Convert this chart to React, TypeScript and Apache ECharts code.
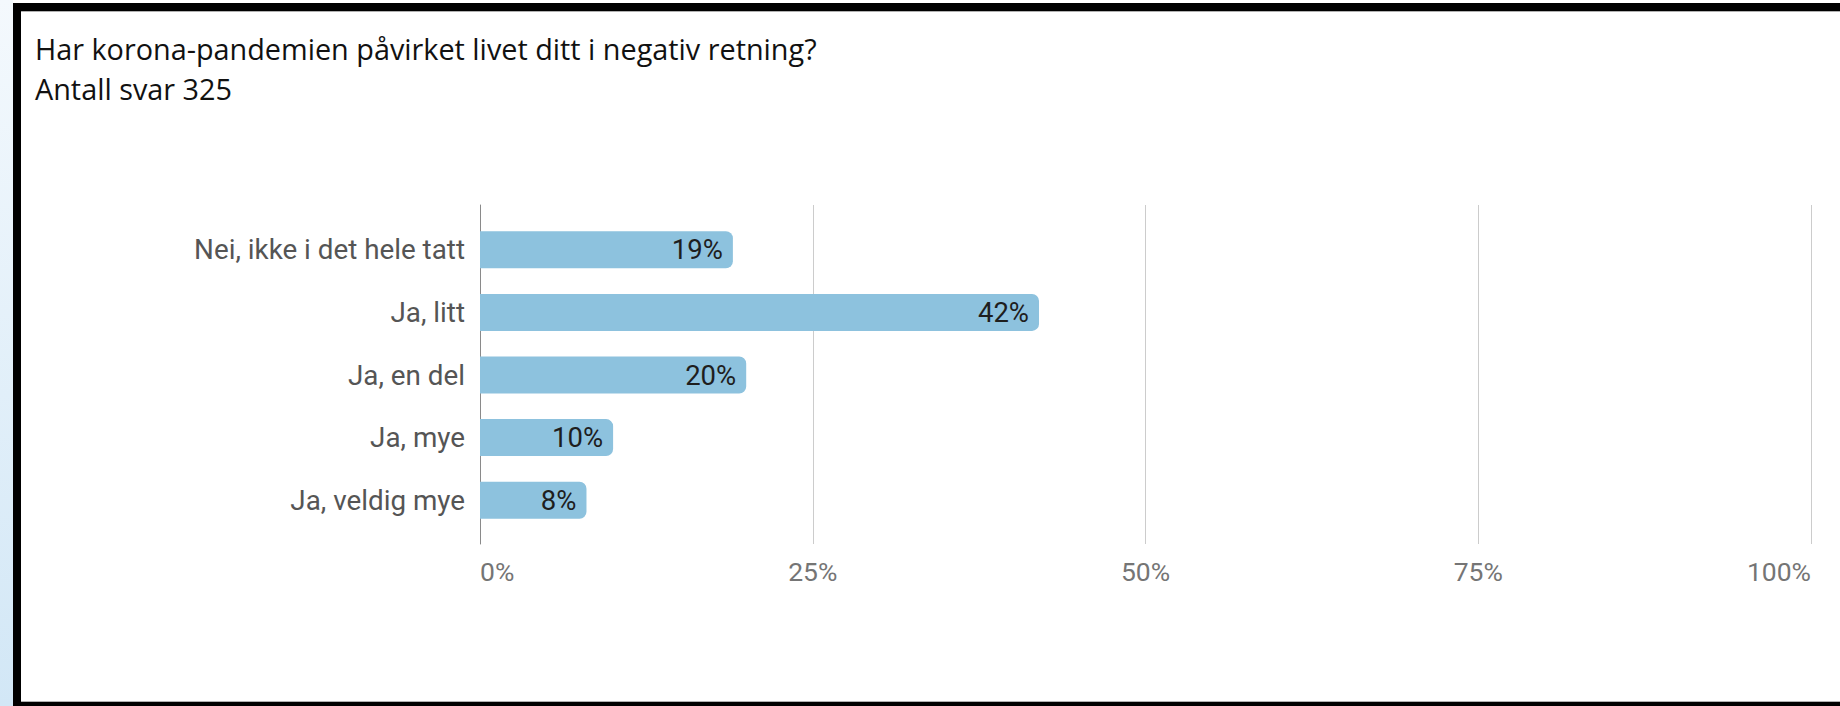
import React, { useEffect, useRef } from "react";
import * as echarts from "echarts";

const titleLine1 = "Har korona-pandemien påvirket livet ditt i negativ retning?";
const titleLine2 = "Antall svar 325";
const categories = [
  "Nei, ikke i det hele tatt",
  "Ja, litt",
  "Ja, en del",
  "Ja, mye",
  "Ja, veldig mye",
];
const percentValues = [19, 42, 20, 10, 8];
const axisMin = 0;
const axisMax = 100;
const axisInterval = 25;

const W = 1840;
const H = 706;

export default function App() {
  const ref = useRef<HTMLDivElement>(null);

  useEffect(() => {
    document.body.style.margin = "0";
    if (!ref.current) return;
    const chart = echarts.init(ref.current, undefined, { renderer: "svg" });

    const plotLeft = 480;
    const plotRight = W - 1811;
    const gridTop = 205;
    const gridBottom = H - 544;
    const bandCenter = 375;
    const band = 62.6;
    const barTop = bandCenter - (band * categories.length) / 2;
    const barHeightTotal = band * categories.length;

    const titleStyle = {
      fontFamily: "Open Sans",
      fontWeight: "normal",
      fontSize: 28.8,
      lineHeight: 36,
      color: "#111111",
    };

    chart.setOption({
      animation: false,
      backgroundColor: "#ffffff",
      title: [
        { text: titleLine1, left: 35, top: 30, padding: 0, textStyle: titleStyle },
        { text: titleLine2, left: 35, top: 70, padding: 0, textStyle: titleStyle },
      ],
      graphic: [
        {
          type: "rect",
          shape: { x: 0, y: 0, width: 13, height: H },
          style: {
            fill: new echarts.graphic.LinearGradient(0, 0, 0, 1, [
              { offset: 0, color: "#f4f9fd" },
              { offset: 1, color: "#d2e7f6" },
            ]),
          },
          silent: true,
        },
        {
          type: "rect",
          shape: { x: 13, y: 3, width: 8, height: H - 3 },
          style: { fill: "#000000" },
          silent: true,
        },
        {
          type: "rect",
          shape: { x: 13, y: 3, width: W - 13, height: 8 },
          style: { fill: "#000000" },
          silent: true,
        },
        {
          type: "rect",
          shape: { x: 13, y: 702, width: W - 13, height: 4 },
          style: { fill: "#000000" },
          silent: true,
        },
        {
          type: "rect",
          shape: { x: 21, y: 11, width: W - 21, height: 1 },
          style: { fill: "#b0b0b0" },
          silent: true,
        },
        {
          type: "rect",
          shape: { x: 21, y: 701, width: W - 21, height: 1 },
          style: { fill: "#b0b0b0" },
          silent: true,
        },
      ],
      grid: [
        {
          left: plotLeft,
          right: plotRight,
          top: gridTop,
          bottom: gridBottom,
          containLabel: false,
        },
        {
          left: plotLeft,
          right: plotRight,
          top: barTop,
          height: barHeightTotal,
          containLabel: false,
        },
      ],
      xAxis: [
        {
          gridIndex: 0,
          type: "value",
          min: axisMin,
          max: axisMax,
          interval: axisInterval,
          axisLine: { show: false },
          axisTick: { show: false },
          splitLine: { show: true, lineStyle: { color: "#cccccc", width: 1 } },
          axisLabel: {
            formatter: "{value}%",
            color: "#757575",
            fontFamily: "Roboto",
            fontSize: 26.5,
            margin: 14,
            alignMinLabel: "left",
            alignMaxLabel: "right",
          },
        },
        {
          gridIndex: 1,
          type: "value",
          min: axisMin,
          max: axisMax,
          show: false,
        },
      ],
      yAxis: [
        {
          gridIndex: 0,
          type: "value",
          min: 0,
          max: 1,
          axisLine: { show: true, lineStyle: { color: "#8a8a8a", width: 1 } },
          axisTick: { show: false },
          axisLabel: { show: false },
          splitLine: { show: false },
        },
        {
          gridIndex: 1,
          type: "category",
          data: categories,
          inverse: true,
          axisLine: { show: false },
          axisTick: { show: false },
          splitLine: { show: false },
          axisLabel: {
            color: "#555555",
            fontFamily: "Roboto",
            fontSize: 27.8,
            margin: 15,
          },
        },
      ],
      series: [
        {
          type: "bar",
          xAxisIndex: 1,
          yAxisIndex: 1,
          data: percentValues,
          barWidth: 37,
          itemStyle: { color: "#8dc2de", borderRadius: [0, 7, 7, 0] },
          label: {
            show: true,
            position: "insideRight",
            distance: 10,
            formatter: "{c}%",
            color: "#1e1e1e",
            fontFamily: "Roboto",
            fontSize: 27.5,
          },
          z: 3,
        },
      ],
    });

    return () => {
      chart.dispose();
    };
  }, []);

  return (
    <div
      ref={ref}
      style={{ position: "absolute", left: 0, top: 0, width: W, height: H }}
    />
  );
}
